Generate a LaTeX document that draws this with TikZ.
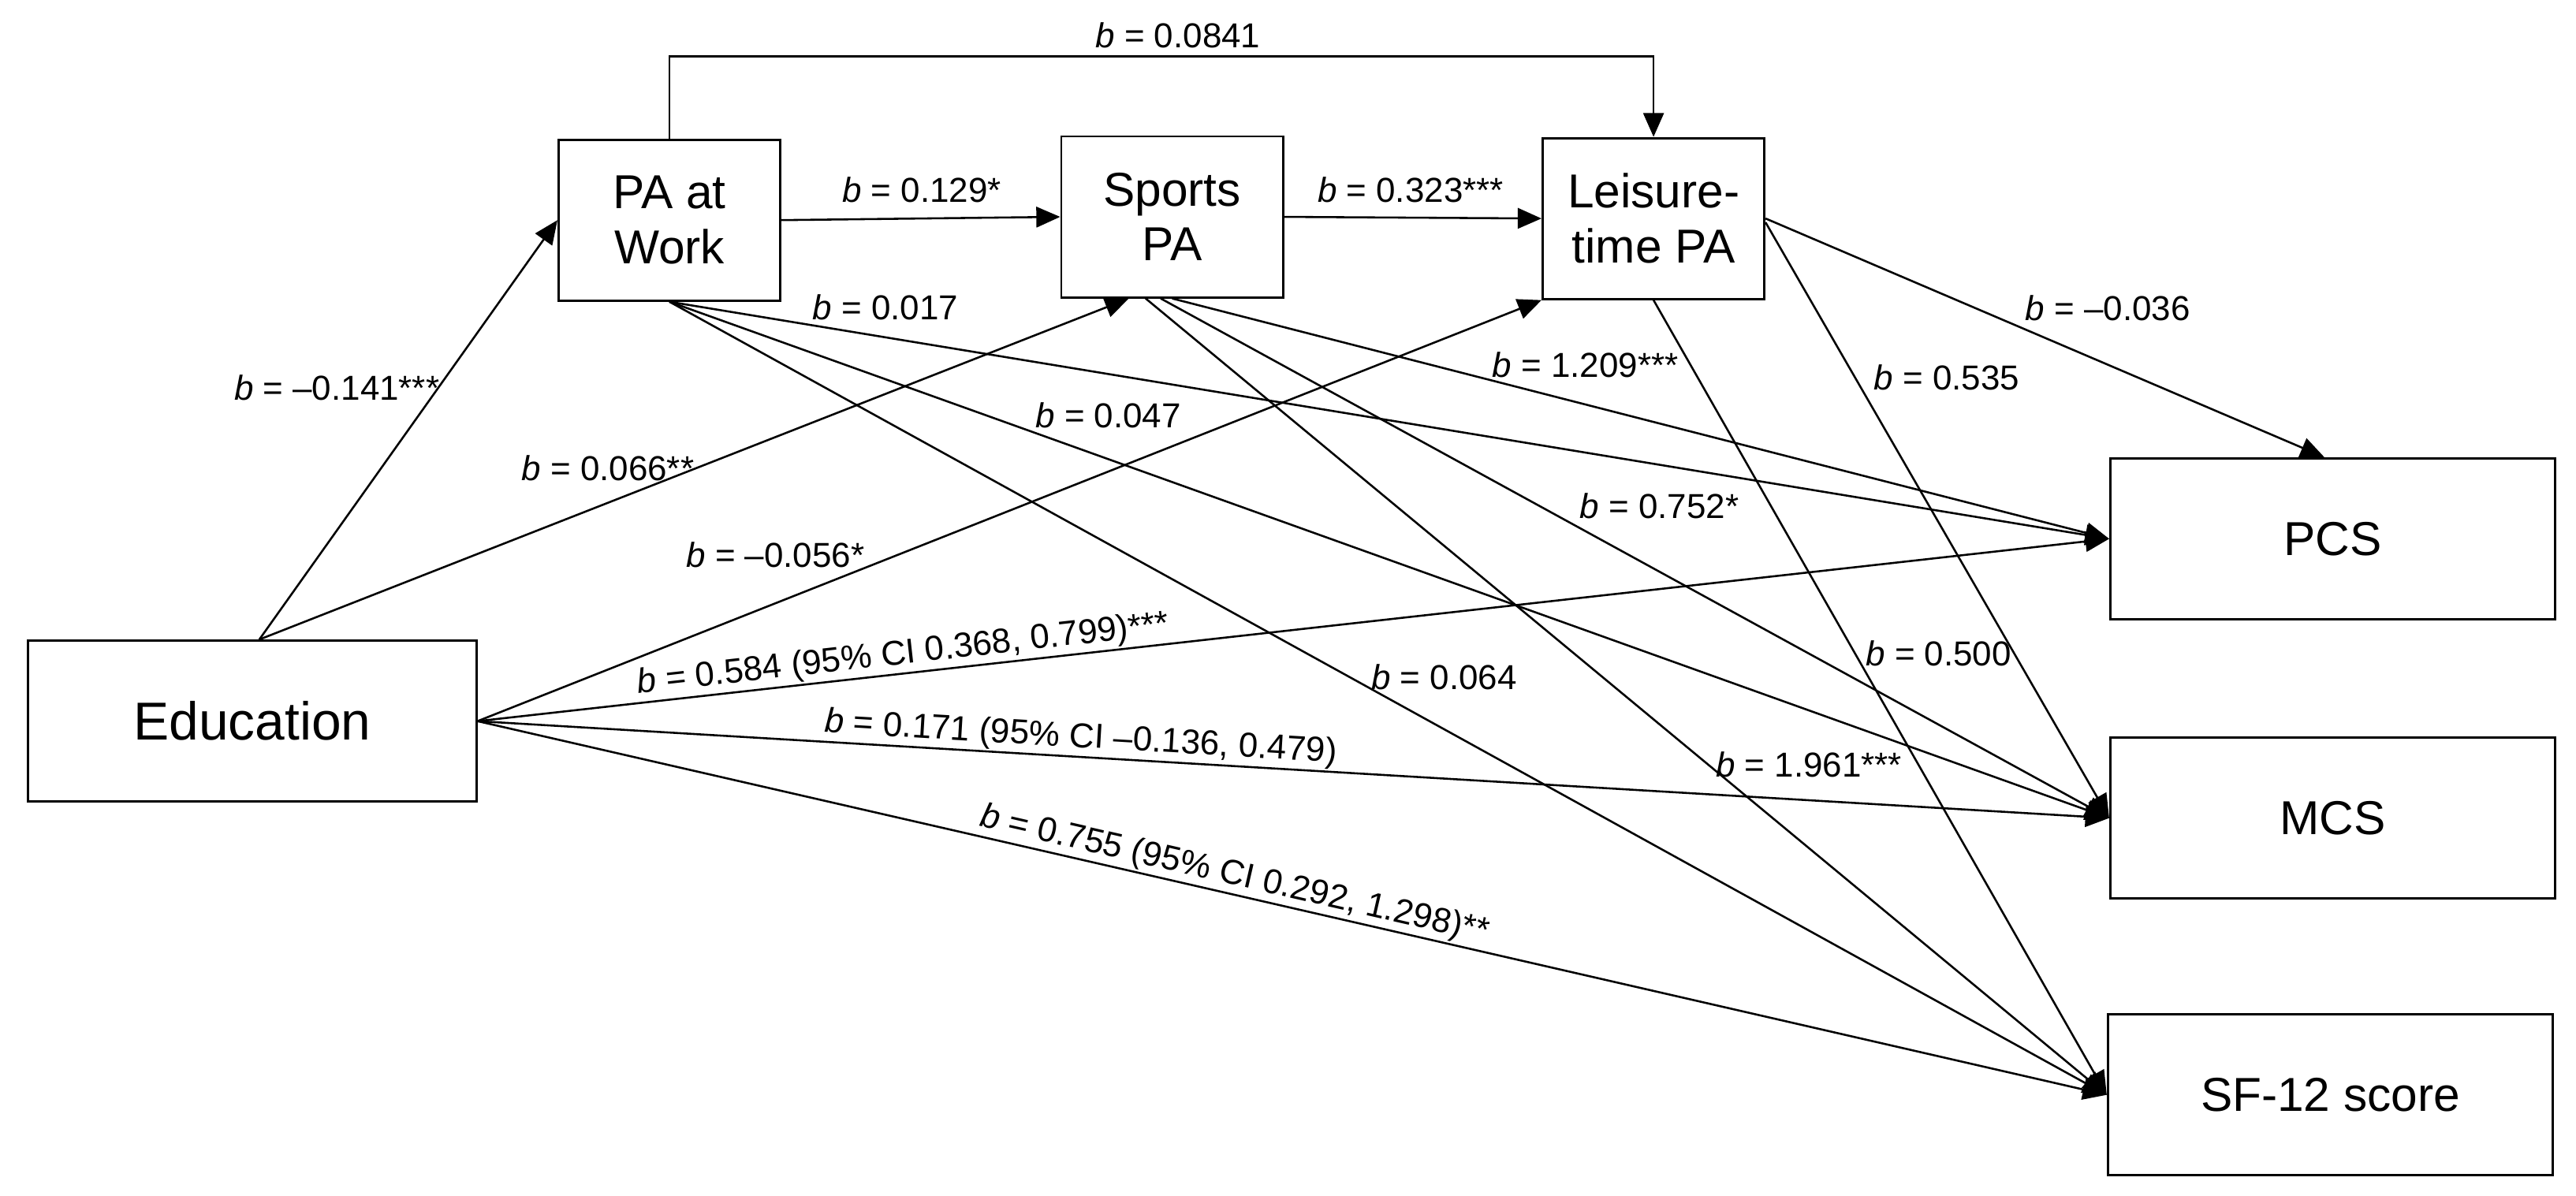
\documentclass[tikz,border=0pt]{standalone}
\usepackage{fontspec}
\setmainfont{Liberation Sans}
\usetikzlibrary{arrows.meta}

\newcommand{\boxfont}{\fontsize{16.5}{19}\selectfont}
\newcommand{\labfont}{\fontsize{12}{14}\selectfont}
\newcommand{\bcoef}{\textit{b}}

\tikzset{
  box/.style={draw, line width=0.8pt, align=center, inner sep=0pt, font=\boxfont},
  smallbox/.style={box, minimum width=2.7cm, minimum height=1.96cm},
  bigbox/.style={box, minimum width=5.42cm, minimum height=1.96cm},
  arr/.style={-{Triangle[length=0.29cm,width=0.25cm]}, line width=0.7pt},
  lab/.style={font=\labfont, inner sep=0.5pt},
}

\begin{document}
\begin{tikzpicture}[x=0.02cm, y=-0.02cm]
\useasboundingbox (0,0) rectangle (1568,728);

% boxes
\node[bigbox, minimum width=5.46cm, font=\fontsize{18.5}{21}\selectfont] (Edu) at (153.5,439) {Education};
\node[smallbox] (PAW) at (407.5,134) {PA at\\Work};
\node[smallbox] (SPA) at (713.5,132) {Sports\\PA};
\node[smallbox] (LPA) at (1006.5,133) {Leisure-\\time PA};
\node[bigbox] (PCS) at (1420,328) {PCS};
\node[bigbox] (MCS) at (1420,498) {MCS};
\node[bigbox] (SF) at (1418.5,666.5) {SF-12 score};

% from education
\draw[arr] (Edu.85) -- (PAW.west);
\draw[arr] (Edu.85) -- (SPA.242);
\draw[arr] (Edu.east) -- (LPA.south west);
\draw[arr] (Edu.east) -- (PCS.west)
  node[lab, sloped, above, pos=0.262] (l-ep) {\bcoef{} = 0.584 (95\% CI 0.368, 0.799)***};
\draw[arr] (Edu.east) -- (MCS.west)
  node[lab, sloped, above, pos=0.369] (l-em) {\bcoef{} = 0.171 (95\% CI –0.136, 0.479)};
\draw[arr] (Edu.east) -- (SF.west)
  node[lab, sloped, above, pos=0.462] (l-esf) {\bcoef{} = 0.755 (95\% CI 0.292, 1.298)**};

% between the PA boxes
\draw[arr] (PAW.east) -- (SPA.west);
\draw[arr] (SPA.east) -- (LPA.west);
\draw[arr] (PAW.north) -- ++(0,-50) -| (LPA.north);

% PA at work to outcomes
\draw[arr] (PAW.south) -- (PCS.west);
\draw[arr] (PAW.south) -- (MCS.west);
\draw[arr] (PAW.south) -- (SF.west);

% sports PA to outcomes
\draw[arr] (SPA.south) -- (PCS.west);
\draw[arr] (SPA.262) -- (MCS.west);
\draw[arr] (SPA.252) -- (SF.west);

% leisure-time PA to outcomes
\draw[arr] (LPA.east) -- (PCS.96);
\draw[arr] (LPA.-2) -- (MCS.west);
\draw[arr] (LPA.south) -- (SF.west);

% labels
\node[lab] (l-ew) at (205,236) {\bcoef{} = –0.141***};
\node[lab] (l-es) at (370,285) {\bcoef{} = 0.066**};
\node[lab] (l-el) at (472,338) {\bcoef{} = –0.056*};
\node[lab] (l-ws) at (561,115.5) {\bcoef{} = 0.129*};
\node[lab] (l-sl) at (858.6,115.5) {\bcoef{} = 0.323***};
\node[lab] (l-wl) at (717,21.5) {\bcoef{} = 0.0841};
\node[lab] (l-wp) at (539,187) {\bcoef{} = 0.017};
\node[lab] (l-wm) at (674.6,253) {\bcoef{} = 0.047};
\node[lab] (l-wsf) at (879,412) {\bcoef{} = 0.064};
\node[lab] (l-sp) at (965,222) {\bcoef{} = 1.209***};
\node[lab] (l-sm) at (1010,308) {\bcoef{} = 0.752*};
\node[lab] (l-ssf) at (1101,465.5) {\bcoef{} = 1.961***};
\node[lab] (l-lp) at (1283,187.5) {\bcoef{} = –0.036};
\node[lab] (l-lm) at (1185,230) {\bcoef{} = 0.535};
\node[lab] (l-lsf) at (1180,398) {\bcoef{} = 0.500};

\end{tikzpicture}
\end{document}
